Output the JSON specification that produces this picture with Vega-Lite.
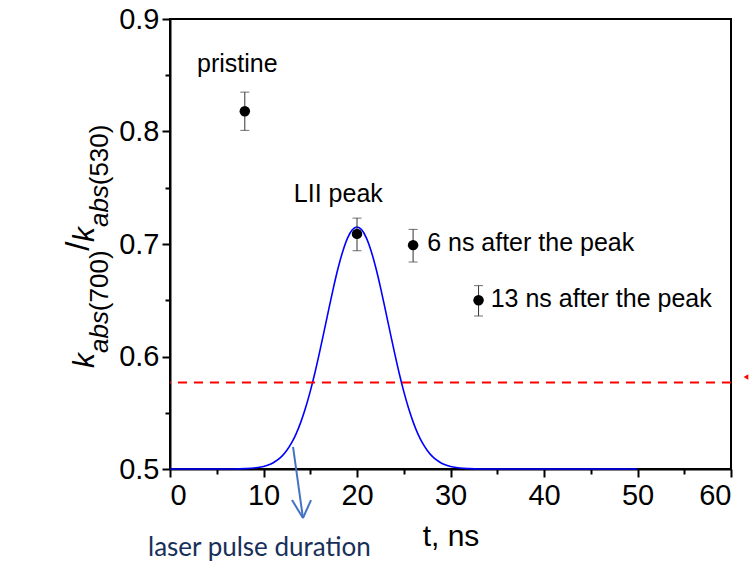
{
  "$schema": "https://vega.github.io/schema/vega-lite/v6.json",
  "width": 561,
  "height": 450,
  "autosize": {"type": "none"},
  "padding": {"left": 170, "top": 19, "right": 18, "bottom": 104},
  "background": "white",
  "config": {
    "view": {"stroke": "black", "strokeWidth": 2},
    "font": "Liberation Sans",
    "axis": {
      "domainColor": "black", "domainWidth": 2, "tickColor": "black", "tickWidth": 2,
      "grid": false, "labelFont": "Liberation Sans", "labelColor": "black",
      "titleFont": "Liberation Sans", "titleColor": "black", "titleFontWeight": "normal"
    }
  },
  "datasets": {
    "curve": [
      {"t": 0, "v": 0.5}, {"t": 5, "v": 0.5}, {"t": 7, "v": 0.5}, {"t": 8, "v": 0.5003},
      {"t": 9, "v": 0.5009}, {"t": 10, "v": 0.5023}, {"t": 10.5, "v": 0.5036}, {"t": 11, "v": 0.5054},
      {"t": 11.5, "v": 0.5081}, {"t": 12, "v": 0.5117}, {"t": 12.5, "v": 0.5167}, {"t": 13, "v": 0.5232},
      {"t": 13.5, "v": 0.5315}, {"t": 14, "v": 0.5419}, {"t": 14.5, "v": 0.5544}, {"t": 15, "v": 0.569},
      {"t": 15.5, "v": 0.5856}, {"t": 16, "v": 0.6039}, {"t": 16.5, "v": 0.6232}, {"t": 17, "v": 0.6428},
      {"t": 17.5, "v": 0.6619}, {"t": 18, "v": 0.6793}, {"t": 18.5, "v": 0.6941}, {"t": 19, "v": 0.7055},
      {"t": 19.5, "v": 0.7126}, {"t": 20, "v": 0.715}, {"t": 20.5, "v": 0.7126}, {"t": 21, "v": 0.7055},
      {"t": 21.5, "v": 0.6941}, {"t": 22, "v": 0.6793}, {"t": 22.5, "v": 0.6619}, {"t": 23, "v": 0.6428},
      {"t": 23.5, "v": 0.6232}, {"t": 24, "v": 0.6039}, {"t": 24.5, "v": 0.5856}, {"t": 25, "v": 0.569},
      {"t": 25.5, "v": 0.5544}, {"t": 26, "v": 0.5419}, {"t": 26.5, "v": 0.5315}, {"t": 27, "v": 0.5232},
      {"t": 27.5, "v": 0.5167}, {"t": 28, "v": 0.5117}, {"t": 28.5, "v": 0.5081}, {"t": 29, "v": 0.5054},
      {"t": 29.5, "v": 0.5036}, {"t": 30, "v": 0.5023}, {"t": 31, "v": 0.5009}, {"t": 32, "v": 0.5003},
      {"t": 33, "v": 0.5}, {"t": 40, "v": 0.5}, {"t": 50, "v": 0.5}
    ],
    "pts": [
      {"t": 8, "v": 0.818, "lo": 0.801, "hi": 0.835},
      {"t": 20, "v": 0.709, "lo": 0.694, "hi": 0.723},
      {"t": 26, "v": 0.699, "lo": 0.684, "hi": 0.713},
      {"t": 33, "v": 0.65, "lo": 0.636, "hi": 0.663}
    ],
    "labc": [
      {"t": 7.2, "v": 0.86, "label": "pristine"},
      {"t": 18.0, "v": 0.7444, "label": "LII peak"}
    ],
    "labl": [
      {"t": 27.5, "v": 0.7009, "label": "6 ns after the peak"},
      {"t": 34.3, "v": 0.6511, "label": "13 ns after the peak"}
    ],
    "level": [{"v": 0.577}],
    "marker": [{"t": 61.6, "v": 0.5818}],
    "arrow": [
      {"t": 13.16, "v": 0.5196, "t2": 14.22, "v2": 0.4564},
      {"t": 13.05, "v": 0.4724, "t2": 14.22, "v2": 0.4564},
      {"t": 15.08, "v": 0.4724, "t2": 14.22, "v2": 0.4564}
    ],
    "note": [{"t": -2.35, "v": 0.4298, "label": "laser pulse duration"}],
    "tk": [{"t": -9.09, "v": 0.5964, "label": "k"}, {"t": -9.09, "v": 0.7084, "label": "k"}],
    "tslash": [{"t": -9.7, "v": 0.698, "label": "/"}],
    "tabs": [{"t": -7.49, "v": 0.6218, "label": "abs"}, {"t": -7.49, "v": 0.7337, "label": "abs"}],
    "tnum": [{"t": -7.49, "v": 0.6673, "label": "(700)"}, {"t": -7.49, "v": 0.7792, "label": "(530)"}]
  },
  "resolve": {"axis": {"x": "independent", "y": "independent"}},
  "layer": [
    {
      "data": {"name": "curve"},
      "mark": {"type": "line", "color": "#0000FF", "strokeWidth": 1.6, "interpolate": "monotone"},
      "encoding": {
        "x": {"field": "t", "type": "quantitative", "scale": {"domain": [0, 60], "nice": false},
          "axis": {"values": [0, 10, 20, 30, 40, 50, 60], "tickSize": 8, "labelFontSize": 29, "labelPadding": 4,
            "title": "t, ns", "titleFontSize": 30, "titlePadding": 11}},
        "y": {"field": "v", "type": "quantitative", "scale": {"domain": [0.5, 0.9], "nice": false, "zero": false},
          "axis": {"values": [0.5, 0.6, 0.7, 0.8, 0.9], "format": ".1f", "tickSize": 8, "labelFontSize": 29, "labelPadding": 3, "title": null}}
      }
    },
    {
      "data": {"name": "level"},
      "mark": {"type": "rule", "color": "#FF0000", "strokeWidth": 2, "strokeDash": [9, 7]},
      "encoding": {"y": {"field": "v", "type": "quantitative", "axis": null}}
    },
    {
      "data": {"name": "pts"},
      "mark": {"type": "rule", "color": "#333333", "strokeWidth": 1},
      "encoding": {
        "x": {"field": "t", "type": "quantitative", "axis": null},
        "y": {"field": "lo", "type": "quantitative", "axis": null},
        "y2": {"field": "hi"}
      }
    },
    {
      "data": {"name": "pts"},
      "mark": {"type": "tick", "color": "#333333", "orient": "horizontal", "size": 9, "thickness": 1},
      "encoding": {
        "x": {"field": "t", "type": "quantitative", "axis": null},
        "y": {"field": "lo", "type": "quantitative", "axis": null}
      }
    },
    {
      "data": {"name": "pts"},
      "mark": {"type": "tick", "color": "#333333", "orient": "horizontal", "size": 9, "thickness": 1},
      "encoding": {
        "x": {"field": "t", "type": "quantitative", "axis": null},
        "y": {"field": "hi", "type": "quantitative", "axis": null}
      }
    },
    {
      "data": {"name": "pts"},
      "mark": {"type": "point", "shape": "circle", "filled": true, "color": "black", "size": 110, "opacity": 1},
      "encoding": {
        "x": {"field": "t", "type": "quantitative",
          "axis": {"orient": "bottom", "values": [5, 15, 25, 35, 45, 55], "tickSize": 5, "labels": false, "domain": false, "title": null}},
        "y": {"field": "v", "type": "quantitative",
          "axis": {"orient": "left", "values": [0.55, 0.65, 0.75, 0.85], "tickSize": 5, "labels": false, "domain": false, "title": null}}
      }
    },
    {
      "data": {"name": "labc"},
      "mark": {"type": "text", "fontSize": 25, "align": "center", "baseline": "middle", "color": "black"},
      "encoding": {
        "x": {"field": "t", "type": "quantitative", "axis": null},
        "y": {"field": "v", "type": "quantitative", "axis": null},
        "text": {"field": "label"}
      }
    },
    {
      "data": {"name": "labl"},
      "mark": {"type": "text", "fontSize": 25, "align": "left", "baseline": "middle", "color": "black"},
      "encoding": {
        "x": {"field": "t", "type": "quantitative", "axis": null},
        "y": {"field": "v", "type": "quantitative", "axis": null},
        "text": {"field": "label"}
      }
    },
    {
      "data": {"name": "marker"},
      "mark": {"type": "point", "shape": "triangle-left", "filled": true, "color": "#FF0000", "size": 30, "opacity": 1},
      "encoding": {
        "x": {"field": "t", "type": "quantitative", "axis": null},
        "y": {"field": "v", "type": "quantitative", "axis": null}
      }
    },
    {
      "data": {"name": "arrow"},
      "mark": {"type": "rule", "color": "#4472C4", "strokeWidth": 2},
      "encoding": {
        "x": {"field": "t", "type": "quantitative", "axis": null},
        "y": {"field": "v", "type": "quantitative", "axis": null},
        "x2": {"field": "t2"},
        "y2": {"field": "v2"}
      }
    },
    {
      "data": {"name": "note"},
      "mark": {"type": "text", "font": "Lato", "fontSize": 26, "align": "left", "baseline": "middle", "color": "#17305A"},
      "encoding": {
        "x": {"field": "t", "type": "quantitative", "axis": null},
        "y": {"field": "v", "type": "quantitative", "axis": null},
        "text": {"field": "label"}
      }
    },
    {
      "data": {"name": "tk"},
      "mark": {"type": "text", "fontSize": 30, "fontStyle": "italic", "angle": 270, "align": "center", "baseline": "middle", "color": "black"},
      "encoding": {
        "x": {"field": "t", "type": "quantitative", "axis": null},
        "y": {"field": "v", "type": "quantitative", "axis": null},
        "text": {"field": "label"}
      }
    },
    {
      "data": {"name": "tslash"},
      "mark": {"type": "text", "fontSize": 33, "angle": 270, "align": "center", "baseline": "middle", "color": "black"},
      "encoding": {
        "x": {"field": "t", "type": "quantitative", "axis": null},
        "y": {"field": "v", "type": "quantitative", "axis": null},
        "text": {"field": "label"}
      }
    },
    {
      "data": {"name": "tabs"},
      "mark": {"type": "text", "fontSize": 26, "fontStyle": "italic", "angle": 270, "align": "center", "baseline": "middle", "color": "black"},
      "encoding": {
        "x": {"field": "t", "type": "quantitative", "axis": null},
        "y": {"field": "v", "type": "quantitative", "axis": null},
        "text": {"field": "label"}
      }
    },
    {
      "data": {"name": "tnum"},
      "mark": {"type": "text", "fontSize": 26, "angle": 270, "align": "center", "baseline": "middle", "color": "black"},
      "encoding": {
        "x": {"field": "t", "type": "quantitative", "axis": null},
        "y": {"field": "v", "type": "quantitative", "axis": null},
        "text": {"field": "label"}
      }
    }
  ]
}
